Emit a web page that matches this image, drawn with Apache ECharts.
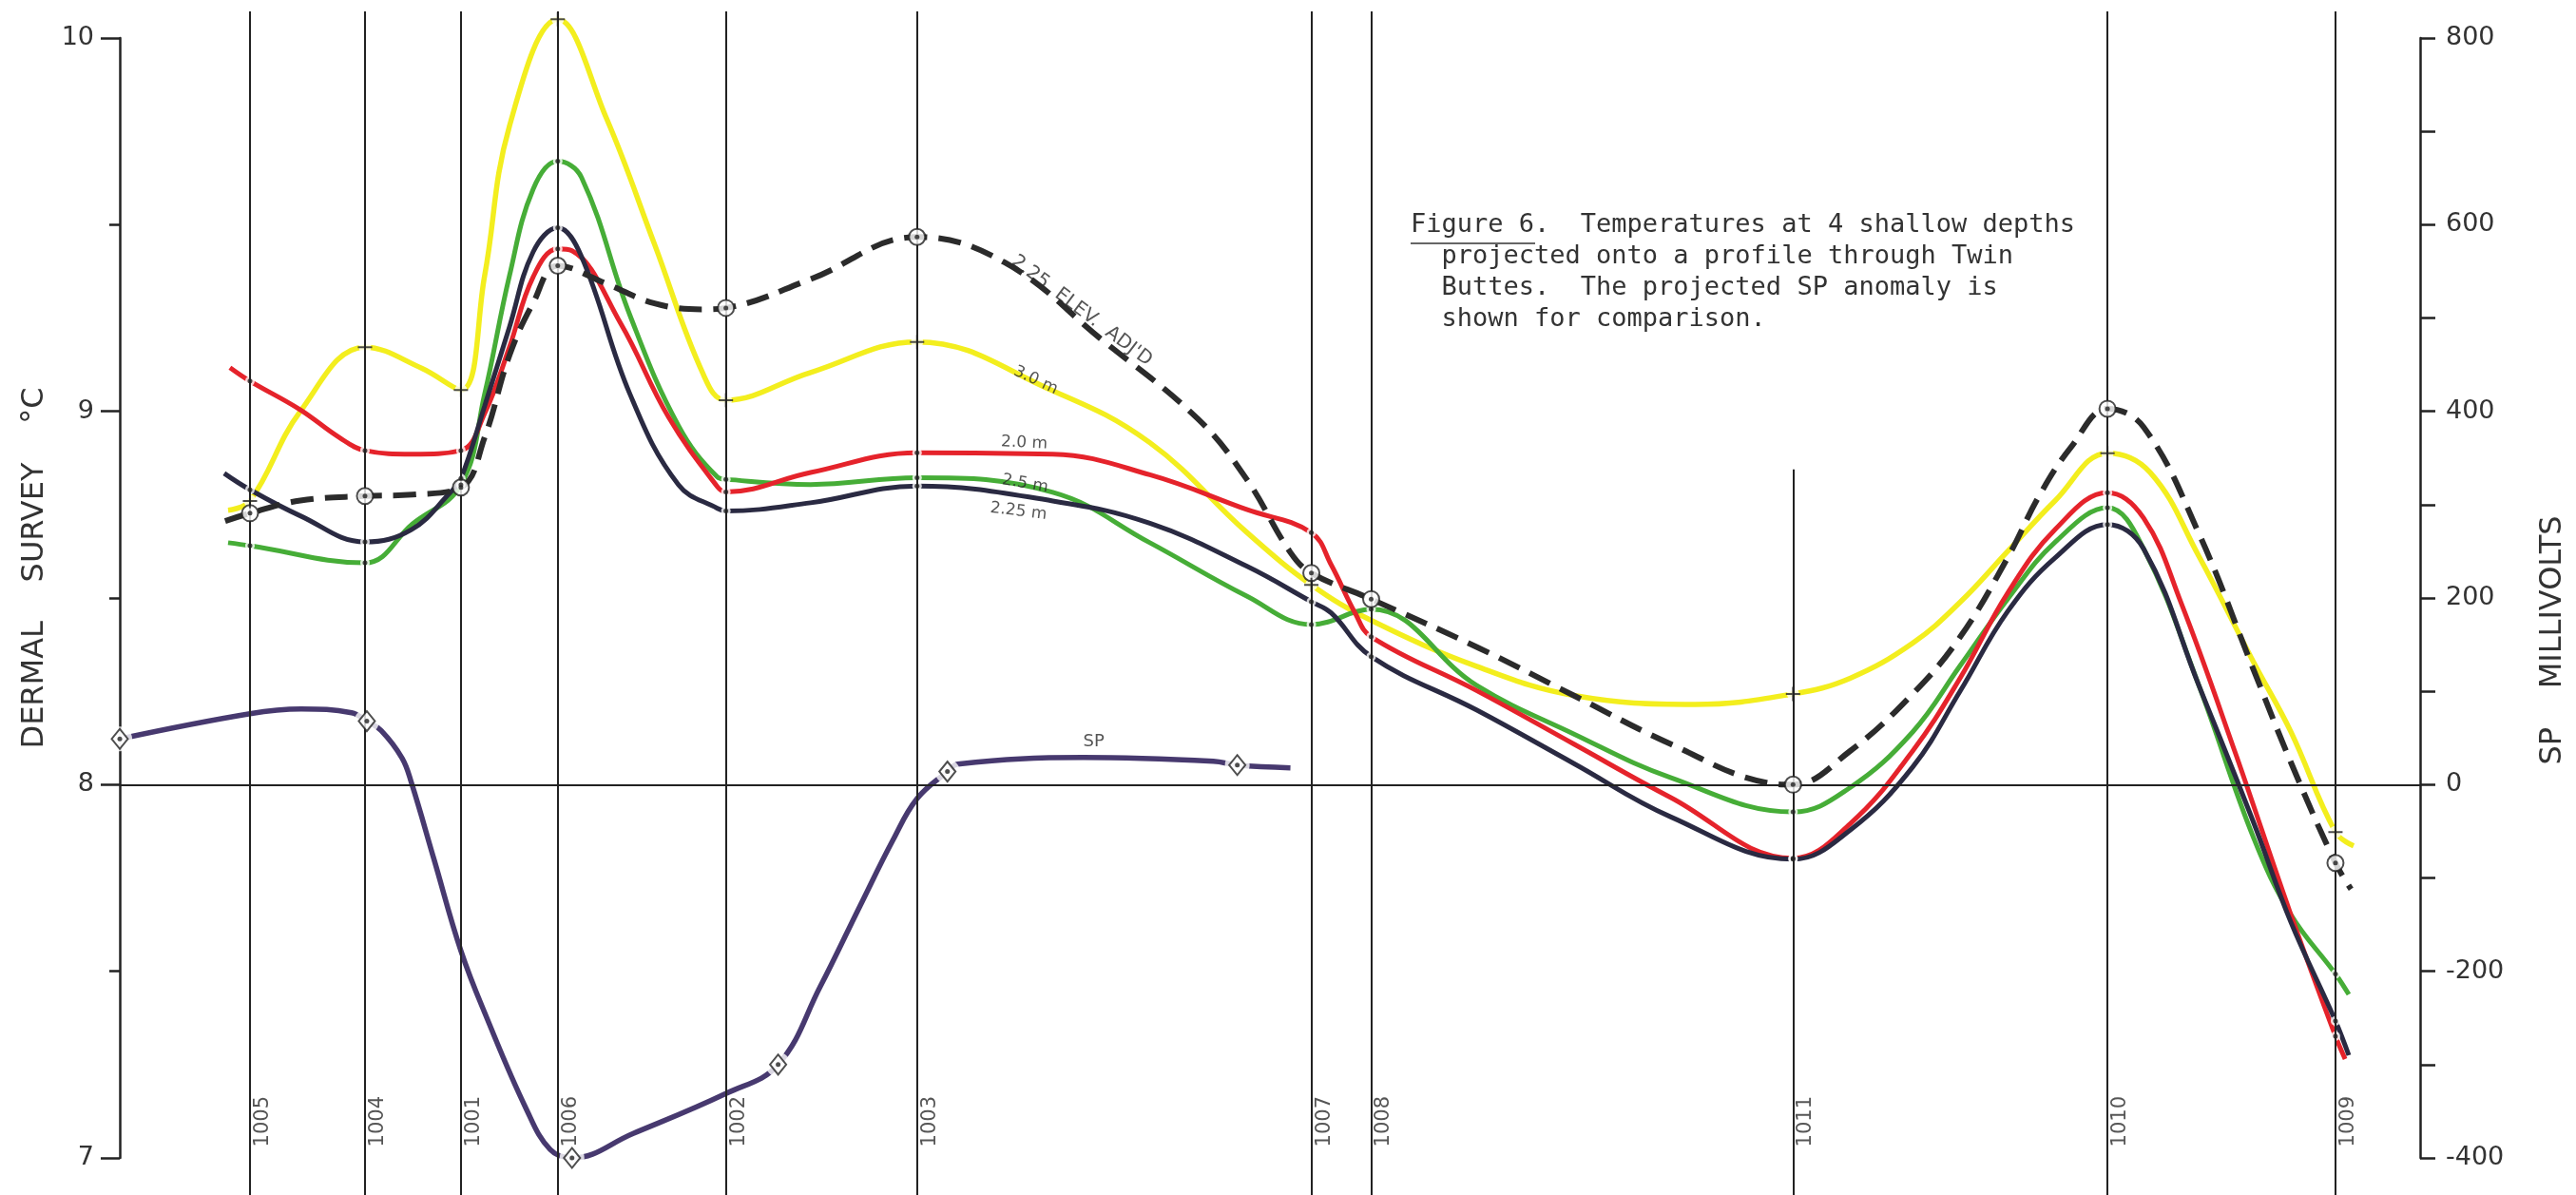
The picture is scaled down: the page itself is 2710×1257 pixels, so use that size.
<!DOCTYPE html>
<html>
<head>
<meta charset="utf-8">
<script src="https://cdn.jsdelivr.net/npm/echarts@6/dist/echarts.min.js"></script>
<style>html,body{margin:0;padding:0;background:#fff}#c{width:2710px;height:1257px}</style>
</head>
<body>
<div id="c"></div>
<script>
// ---- stations along the profile (distance units along the profile) ----
const stationNames = ['1005','1004','1001','1006','1002','1003','1007','1008','1011','1010','1009'];
const stationDist  = [5.66, 10.66, 14.83, 19.04, 26.35, 34.66, 51.80, 54.40, 72.74, 86.41, 96.32];
const stationLineTop = [1, 1, 1, 1, 1, 1, 1, 1, 0.613, 1, 1];

// ---- temperatures (deg C) : [distance, temperature] ----
const depth30 = [[4.71,8.735],[5.66,8.76],[7.85,9.00],[10.66,9.172],[13.14,9.115],[14.83,9.057],[15.86,9.363],[16.94,9.764],[19.04,10.05],[21.15,9.786],[23.25,9.447],[25.36,9.10],[26.35,9.03],[30.03,9.104],[34.66,9.186],[40.56,9.055],[44.78,8.916],[48.99,8.676],[51.80,8.535],[54.40,8.44],[58.98,8.317],[63.20,8.239],[68.48,8.215],[72.74,8.243],[75.22,8.285],[77.94,8.379],[80.01,8.489],[82.07,8.625],[84.14,8.761],[86.41,8.888],[88.27,8.836],[90.38,8.612],[92.77,8.327],[94.38,8.142],[96.32,7.873],[97.11,7.836]];

const depth20 = [[4.79,9.117],[5.66,9.081],[7.85,9.004],[9.54,8.93],[10.66,8.895],[12.72,8.885],[14.83,8.895],[15.86,8.994],[16.94,9.172],[17.97,9.36],[19.04,9.435],[19.66,9.43],[21.77,9.236],[23.87,8.983],[25.98,8.798],[26.35,8.784],[30.03,8.836],[34.66,8.889],[40.56,8.885],[44.78,8.83],[48.99,8.737],[51.80,8.675],[52.66,8.589],[53.70,8.46],[54.40,8.396],[58.98,8.252],[63.20,8.109],[67.41,7.966],[72.74,7.803],[75.22,7.895],[77.94,8.09],[80.01,8.286],[82.07,8.513],[84.14,8.684],[86.41,8.782],[87.98,8.714],[89.59,8.49],[91.99,8.081],[94.38,7.652],[96.32,7.326],[96.74,7.265]];

const depth25 = [[4.71,8.648],[5.66,8.64],[10.66,8.594],[12.72,8.698],[14.83,8.803],[15.86,9.046],[16.94,9.363],[17.97,9.595],[19.04,9.67],[20.07,9.627],[22.18,9.257],[24.29,8.961],[25.98,8.824],[26.35,8.818],[30.03,8.804],[34.66,8.822],[40.56,8.783],[44.78,8.648],[48.99,8.505],[51.80,8.429],[54.40,8.47],[58.98,8.266],[63.20,8.136],[67.41,8.019],[72.74,7.927],[75.22,7.992],[77.94,8.141],[80.01,8.319],[82.07,8.497],[84.14,8.65],[86.41,8.742],[87.98,8.632],[90.38,8.266],[92.77,7.856],[94.38,7.652],[96.32,7.493],[96.9,7.438]];

const depth225 = [[4.54,8.834],[5.66,8.79],[7.85,8.72],[10.66,8.65],[12.68,8.683],[14.33,8.78],[14.83,8.82],[15.86,9.014],[16.94,9.226],[17.97,9.427],[19.04,9.492],[20.07,9.415],[22.18,9.046],[24.29,8.803],[25.98,8.74],[26.35,8.733],[30.03,8.755],[34.66,8.80],[40.56,8.76],[44.78,8.70],[48.99,8.585],[51.80,8.49],[52.66,8.46],[54.40,8.343],[58.98,8.20],[63.20,8.057],[67.41,7.914],[72.74,7.80],[75.22,7.878],[77.94,8.047],[80.01,8.251],[82.07,8.464],[84.14,8.608],[86.41,8.697],[87.98,8.632],[90.38,8.266],[92.77,7.897],[94.38,7.632],[96.32,7.367],[96.9,7.275]];

const depth225adj = [[4.58,8.706],[5.66,8.727],[7.85,8.761],[10.66,8.773],[12.72,8.777],[14.83,8.796],[15.86,8.93],[16.94,9.15],[17.97,9.29],[19.04,9.39],[21.15,9.342],[23.25,9.289],[25.36,9.273],[26.35,9.277],[30.03,9.354],[34.66,9.467],[38.46,9.399],[42.67,9.193],[46.88,8.979],[48.99,8.818],[50.89,8.622],[51.80,8.567],[54.40,8.497],[58.98,8.369],[63.20,8.239],[67.41,8.109],[71.62,8.005],[72.74,8.0],[75.22,8.09],[77.94,8.243],[80.01,8.396],[82.07,8.608],[83.48,8.778],[84.84,8.905],[86.41,9.007],[87.98,8.958],[90.38,8.673],[92.77,8.306],[94.38,8.06],[96.32,7.79],[97.0,7.72]];

// ---- SP anomaly (millivolts) : [distance, mV] ----
const spMillivolts = [[0,49],[5.66,76],[7.89,81],[10.08,77],[10.74,68],[11.36,58],[12.27,28.5],[12.68,2],[13.66,-80],[14.83,-178],[15.94,-249],[17.68,-348],[18.71,-391],[19.66,-400],[22.30,-374],[26.35,-331],[28.62,-300],[30.44,-217],[32.18,-130],[33.62,-59],[34.66,-15],[35.98,14],[36.43,22],[41.88,29],[47.54,25],[48.58,21],[50.89,18]];
const spDiamondDist = [0, 10.74, 19.66, 28.62, 35.98, 48.58];

// ---- axis ticks ----
const tempTicks = [7, 8, 9, 10];
const mvTicks = [-400, -200, 0, 200, 400, 600, 800];

// ---- curve labels ----
const curveLabelText = ["2.25  ELEV.  ADJ'D", '3.0 m', '2.0 m', '2.5 m', '2.25 m'];
const curveLabelPos = [[41.81, 9.269], [39.82, 9.083], [39.32, 8.915], [39.36, 8.806], [39.07, 8.732]];
const curveLabelAngle = [-37, -25, -3, -10, -7];
const spLabelText = 'SP';
const spLabelPos = [42.34, 45.6];

const captionLines = [
  'Figure 6.  Temperatures at 4 shallow depths',
  '  projected onto a profile through Twin',
  '  Buttes.  The projected SP anomaly is',
  '  shown for comparison.'
];

const C = {
  yellow: '#f3ee1e', red: '#e5232b', green: '#46ad37', black: '#2a2a42',
  dashed: '#2b2b2b', sp: '#47396f', ink: '#222', text: '#333'
};

const pick = (data, list) => data.filter(p => list.some(s => Math.abs(s - p[0]) < 1e-9));
const plusStations = stationDist.filter((d, i) => stationNames[i] !== '1008');

function curve(data, color, width, dashed) {
  return {
    type: 'line', data, xAxisIndex: 0, yAxisIndex: 0, smooth: 0.4, showSymbol: false,
    symbol: 'none', clip: false, silent: true, z: 3,
    lineStyle: { color, width, type: dashed ? [24, 12] : 'solid', cap: 'butt' }
  };
}
function scatter(data, opts, yAxisIndex) {
  return Object.assign({
    type: 'scatter', data, xAxisIndex: 0, yAxisIndex: yAxisIndex || 0,
    clip: false, silent: true
  }, opts);
}
const halo = (data, size, y) => scatter(data, { symbol: 'circle', symbolSize: size, itemStyle: { color: '#fff' }, z: 4 }, y);
const dots = (data, y) => scatter(data, { symbol: 'circle', symbolSize: 5, itemStyle: { color: C.ink }, z: 7 }, y);

const axisCommon = {
  axisLine: { show: true, lineStyle: { color: C.ink, width: 2.5 } },
  splitLine: { show: false },
  axisLabel: { fontSize: 27, color: C.text, fontFamily: 'DejaVu Sans', margin: 27 }
};

const option = {
  animation: false,
  backgroundColor: '#fff',
  grid: [
    { left: 126, right: 164, top: 40, bottom: 39, containLabel: false, outerBoundsMode: 'none' },
    { left: 126, right: 164, top: 12, bottom: 0, containLabel: false, outerBoundsMode: 'none' }
  ],
  xAxis: [
    { gridIndex: 0, type: 'value', min: 0, max: 100, show: false },
    { gridIndex: 1, type: 'value', min: 0, max: 100, show: false }
  ],
  yAxis: [
    Object.assign({}, axisCommon, {
      gridIndex: 0, type: 'value', position: 'left', min: tempTicks[0], max: tempTicks[tempTicks.length - 1], interval: 1,
      axisTick: { show: true, inside: false, length: 20, lineStyle: { color: C.ink, width: 2.5 } },
      minorTick: { show: true, splitNumber: 2, length: 11, lineStyle: { color: C.ink, width: 2.5 } }
    }),
    Object.assign({}, axisCommon, {
      gridIndex: 0, type: 'value', position: 'right', min: mvTicks[0], max: mvTicks[mvTicks.length - 1], interval: 200,
      axisTick: { show: true, inside: false, length: 16, lineStyle: { color: C.ink, width: 2.5 } },
      minorTick: { show: true, splitNumber: 2, length: 16, lineStyle: { color: C.ink, width: 2.5 } }
    }),
    { gridIndex: 1, type: 'value', min: 0, max: 1, show: false }
  ],
  graphic: [
    { type: 'text', x: 36.5, y: 597.5, rotation: Math.PI / 2,
      style: { text: 'DERMAL    SURVEY    \u00B0C', font: '32px "DejaVu Sans"', fill: C.text, align: 'center', verticalAlign: 'middle' } },
    { type: 'text', x: 2686, y: 673.5, rotation: Math.PI / 2,
      style: { text: 'SP    MILLIVOLTS', font: '32px "DejaVu Sans"', fill: C.text, align: 'center', verticalAlign: 'middle' } },
    { type: 'text', x: 1484, y: 220.5,
      style: { text: captionLines.join('\n'), font: '27px "DejaVu Sans Mono"', fill: C.text, lineHeight: 33, align: 'left', verticalAlign: 'top' } },
    { type: 'line', shape: { x1: 1484, y1: 256, x2: 1615, y2: 256 }, style: { stroke: C.text, lineWidth: 1.5 } }
  ],
  series: [
    // station lines
    {
      type: 'line', xAxisIndex: 1, yAxisIndex: 2, data: [], silent: true, z: 1,
      markLine: {
        silent: true, symbol: ['none', 'none'], label: { show: false },
        lineStyle: { color: C.ink, width: 2, type: 'solid' },
        data: stationDist.map((d, i) => [{ coord: [d, 0] }, { coord: [d, stationLineTop[i]] }])
      }
    },
    // station labels
    {
      type: 'scatter', xAxisIndex: 1, yAxisIndex: 2, silent: true, z: 2,
      symbolSize: 1, itemStyle: { color: 'rgba(0,0,0,0)' },
      data: stationDist.map((d, i) => ({ name: stationNames[i], value: [d, 0.0402] })),
      label: { show: true, formatter: '{b}', position: [14, 0], rotate: 90, align: 'left', verticalAlign: 'middle',
        fontSize: 21, color: '#2a2a2a', fontFamily: 'DejaVu Sans' }
    },
    // baseline at 8 C / 0 mV
    {
      type: 'line', xAxisIndex: 0, yAxisIndex: 0, data: [], silent: true, z: 2,
      markLine: { silent: true, symbol: ['none', 'none'], label: { show: false },
        lineStyle: { color: C.ink, width: 2, type: 'solid' }, data: [{ yAxis: 8 }] }
    },
    curve(depth30, C.yellow, 5.5),
    curve(depth25, C.green, 5),
    curve(depth20, C.red, 5),
    curve(depth225, C.black, 5),
    curve(depth225adj, C.dashed, 6, true),
    Object.assign(curve(spMillivolts, C.sp, 5.5), { yAxisIndex: 1 }),

    // marker halos (gaps in the pencil lines at the stations)
    halo(pick(depth30, plusStations), 13),
    halo(pick(depth25, stationDist), 10),
    halo(pick(depth20, stationDist), 10),
    halo(pick(depth225, stationDist), 10),
    halo(pick(spMillivolts, spDiamondDist), 26, 1),

    // + markers (3.0 m)
    scatter(pick(depth30, plusStations), { symbol: 'path://M5,0L5,10M0,5L10,5', symbolSize: 15,
      itemStyle: { color: 'none', borderColor: C.ink, borderWidth: 2 }, z: 7 }),
    // dots on the other depth curves
    dots(pick(depth25, stationDist)),
    dots(pick(depth20, stationDist)),
    dots(pick(depth225, stationDist)),
    // circle-dot markers for elevation adjusted curve
    scatter(pick(depth225adj, stationDist), { symbol: 'circle', symbolSize: 17,
      itemStyle: { color: '#fff', borderColor: C.ink, borderWidth: 2 }, z: 6 }),
    dots(pick(depth225adj, stationDist)),
    // SP diamonds
    scatter(pick(spMillivolts, spDiamondDist), { symbol: 'diamond', symbolSize: [17, 21],
      itemStyle: { color: '#fff', borderColor: C.ink, borderWidth: 2 }, z: 6 }, 1),
    dots(pick(spMillivolts, spDiamondDist), 1),

    // curve labels
    {
      type: 'scatter', xAxisIndex: 0, yAxisIndex: 0, silent: true, z: 8, symbolSize: 1,
      itemStyle: { color: 'rgba(0,0,0,0)' },
      data: curveLabelText.map((t, i) => ({ name: t, value: curveLabelPos[i],
        label: { rotate: curveLabelAngle[i], fontSize: i === 0 ? 20 : 17 } })),
      label: { show: true, formatter: '{b}', position: 'inside', align: 'center', verticalAlign: 'middle',
        color: '#2a2a2a', fontFamily: 'DejaVu Sans' }
    },
    {
      type: 'scatter', xAxisIndex: 0, yAxisIndex: 1, silent: true, z: 8, symbolSize: 1,
      itemStyle: { color: 'rgba(0,0,0,0)' },
      data: [{ name: spLabelText, value: spLabelPos }],
      label: { show: true, formatter: '{b}', position: 'inside', align: 'center', verticalAlign: 'middle',
        fontSize: 18, color: '#2a2a2a', fontFamily: 'DejaVu Sans' }
    }
  ]
};

const chart = echarts.init(document.getElementById('c'), null, { renderer: 'canvas', width: 2710, height: 1257 });
chart.setOption(option);
</script>
</body>
</html>
